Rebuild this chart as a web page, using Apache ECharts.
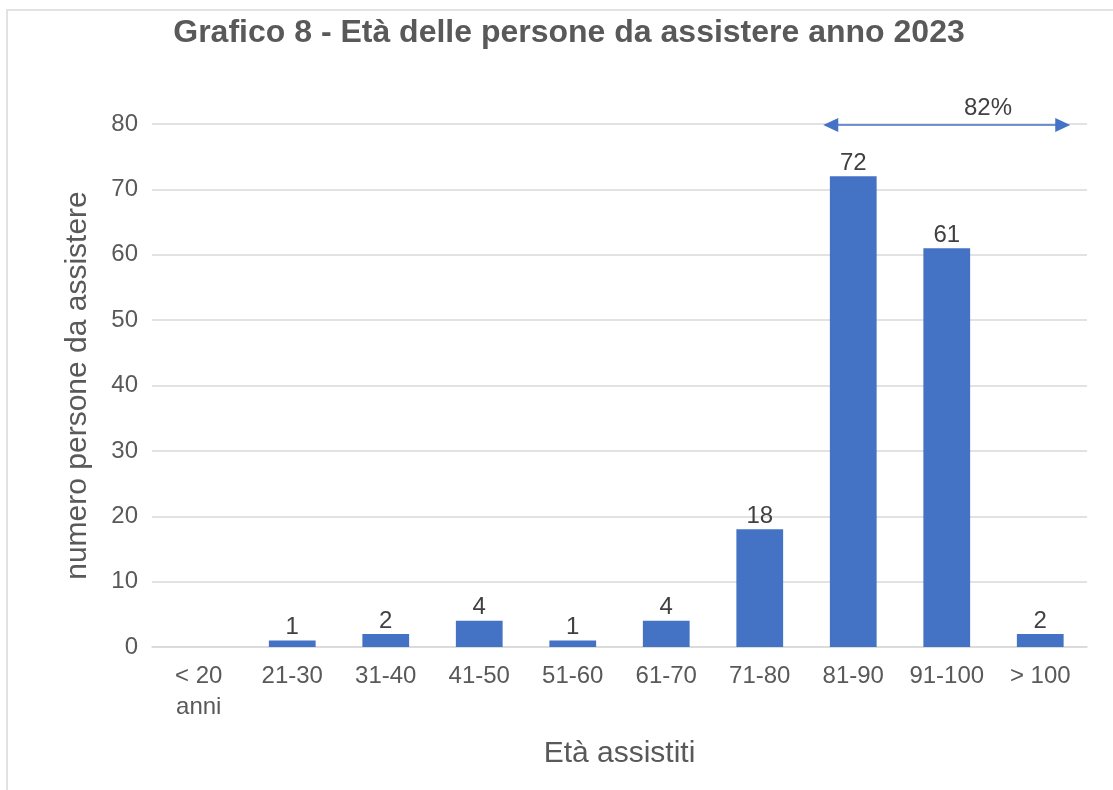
<!DOCTYPE html>
<html>
<head>
<meta charset="utf-8">
<script src="https://cdn.jsdelivr.net/npm/echarts@6/dist/echarts.min.js"></script>
<style>
html, body { margin: 0; padding: 0; background: #fff; }
#main { width: 1113px; height: 790px; }
</style>
</head>
<body>
<div id="main"></div>
<script>
var categories = ['< 20\nanni', '21-30', '31-40', '41-50', '51-60', '61-70', '71-80', '81-90', '91-100', '> 100'];
var values = [0, 1, 2, 4, 1, 4, 18, 72, 61, 2];
var yTicks = [0, 80, 10];
var shareLabel = '82%';

var myChart = echarts.init(document.getElementById('main'));

var option = {
    animation: false,
    textStyle: { fontFamily: 'Liberation Sans, Arial, sans-serif' },
    title: {
        text: 'Grafico 8 - Età delle persone da assistere anno 2023',
        left: 564,
        textAlign: 'center',
        top: 12,
        textStyle: { fontSize: 32, fontWeight: 'bold', color: '#595959' }
    },
    grid: { left: 152, right: 26, top: 124, bottom: 143 },
    xAxis: {
        type: 'category',
        data: categories,
        name: 'Età assistiti',
        nameLocation: 'middle',
        nameGap: 92,
        nameTextStyle: { fontSize: 30, color: '#595959' },
        axisLine: { lineStyle: { color: '#d9d9d9', width: 1.5 } },
        axisTick: { show: false },
        axisLabel: { interval: 0, fontSize: 24, color: '#595959', margin: 14, lineHeight: 31 }
    },
    yAxis: {
        type: 'value',
        min: yTicks[0],
        max: yTicks[1],
        interval: yTicks[2],
        name: 'numero persone da assistere',
        nameLocation: 'middle',
        nameGap: 59,
        nameTextStyle: { fontSize: 30, color: '#595959' },
        axisLine: { show: false },
        axisTick: { show: false },
        axisLabel: { fontSize: 24, color: '#595959', margin: 14 },
        splitLine: { lineStyle: { color: '#d9d9d9', width: 1.5 } }
    },
    series: [{
        type: 'bar',
        data: values,
        barWidth: '50%',
        itemStyle: { color: '#4472c4' },
        label: {
            show: true,
            position: 'top',
            fontSize: 24,
            color: '#404040',
            distance: 1,
            formatter: function (p) { return p.value > 0 ? p.value : ''; }
        }
    }]
};
myChart.setOption(option);

// freccia sopra le ultime tre classi
var p1 = myChart.convertToPixel({ gridIndex: 0 }, [categories[7], yTicks[1]]);
var p2 = myChart.convertToPixel({ gridIndex: 0 }, [categories[9], yTicks[1]]);
var x1 = p1[0] - 30, x2 = p2[0] + 30, y = p1[1] + 1;
myChart.setOption({
    graphic: [
        { type: 'rect', shape: { x: 7, y: 10, width: 1120, height: 800 }, style: { fill: 'none', stroke: '#d9d9d9', lineWidth: 1.5 }, silent: true },
        { type: 'line', shape: { x1: x1 + 10, y1: y, x2: x2 - 10, y2: y }, style: { stroke: '#4472c4', lineWidth: 1.5 } },
        { type: 'polygon', shape: { points: [[x1, y], [x1 + 15, y - 7], [x1 + 15, y + 7]] }, style: { fill: '#4472c4' } },
        { type: 'polygon', shape: { points: [[x2, y], [x2 - 15, y - 7], [x2 - 15, y + 7]] }, style: { fill: '#4472c4' } },
        { type: 'text', x: 988, y: y - 5, style: { text: shareLabel, fontSize: 24, fill: '#404040', align: 'center', verticalAlign: 'bottom', fontFamily: 'Liberation Sans, Arial, sans-serif' } }
    ]
});
</script>
</body>
</html>
